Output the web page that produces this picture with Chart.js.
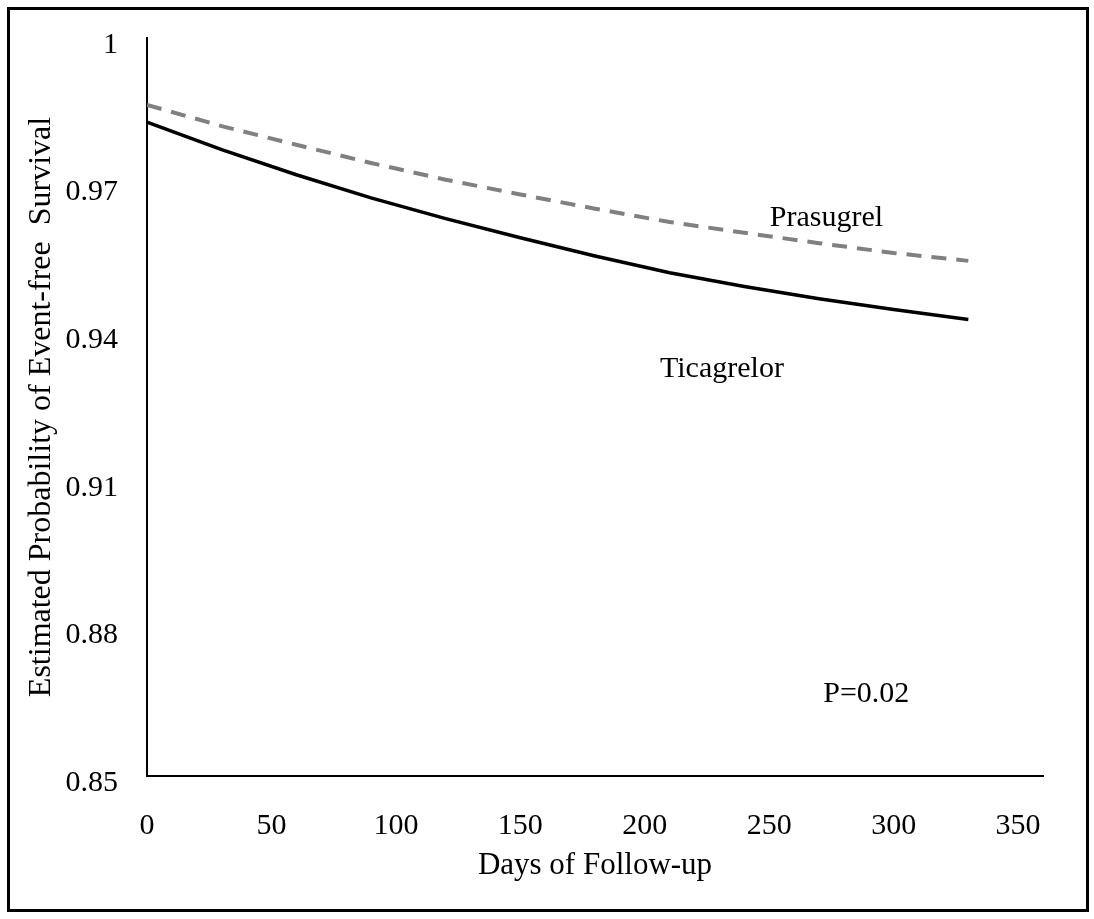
<!DOCTYPE html>
<html>
<head>
<meta charset="utf-8">
<script src="https://cdn.jsdelivr.net/npm/chart.js@4.4.1/dist/chart.umd.min.js"></script>
<style>
  html, body { margin: 0; padding: 0; background: #fff; }
  canvas { display: block; }
</style>
</head>
<body>
<canvas id="survivalChart" width="1094" height="919"></canvas>
<script>
// follow-up days (every 30 days)
const days = [0, 30, 60, 90, 120, 150, 180, 210, 240, 270, 300, 330];
const ticagrelor = [0.9829, 0.9773, 0.9722, 0.9675, 0.9633, 0.9594, 0.9557, 0.9523, 0.9495, 0.9470, 0.9448, 0.9428];
const prasugrel = [0.9864, 0.9821, 0.9783, 0.9746, 0.9712, 0.9682, 0.9653, 0.9626, 0.9604, 0.9583, 0.9563, 0.9547];

const xTicks = [0, 50, 100, 150, 200, 250, 300, 350];
const yTicks = [0.85, 0.88, 0.91, 0.94, 0.97, 1];

// text notes placed in data units
const noteTexts = ['Prasugrel', 'Ticagrelor', 'P=0.02'];
const noteDays = [273, 231, 289];
const noteValues = [0.9634, 0.9326, 0.8666];

const FONT = "'Liberation Serif', 'Times New Roman', serif";

const toPoints = (vals) => days.map((d, i) => ({ x: d, y: vals[i] }));

// outer frame round the whole figure
const framePlugin = {
    id: 'frame',
    beforeDraw(chart) {
        const ctx = chart.ctx;
        ctx.save();
        ctx.fillStyle = '#fff';
        ctx.fillRect(0, 0, chart.width, chart.height);
        ctx.strokeStyle = '#000';
        ctx.lineWidth = 3;
        ctx.strokeRect(8.5, 8.5, 1079, 902);
        ctx.restore();
    }
};

const notesPlugin = {
    id: 'notes',
    afterDatasetsDraw(chart) {
        const ctx = chart.ctx;
        const xs = chart.scales.x, ys = chart.scales.y;
        ctx.save();
        ctx.fillStyle = '#000';
        ctx.font = `30px ${FONT}`;
        ctx.textAlign = 'center';
        ctx.textBaseline = 'middle';
        noteTexts.forEach((t, i) => {
            ctx.fillText(t, xs.getPixelForValue(noteDays[i]), ys.getPixelForValue(noteValues[i]));
        });
        ctx.restore();
    }
};

new Chart(document.getElementById('survivalChart'), {
    type: 'line',
    data: {
        datasets: [
            {
                label: 'Ticagrelor',
                data: toPoints(ticagrelor),
                borderColor: '#000',
                borderWidth: 3.5,
                pointRadius: 0,
                tension: 0,
                fill: false
            },
            {
                label: 'Prasugrel',
                data: toPoints(prasugrel),
                borderColor: '#808080',
                borderWidth: 4,
                borderDash: [15, 10],
                pointRadius: 0,
                tension: 0,
                fill: false
            }
        ]
    },
    options: {
        responsive: false,
        devicePixelRatio: 1,
        animation: false,
        layout: { padding: { top: 38, right: 51, left: 0, bottom: 0 } },
        plugins: {
            legend: { display: false },
            tooltip: { enabled: false }
        },
        scales: {
            x: {
                type: 'linear',
                min: 0,
                max: 360,
                grid: { display: false, drawTicks: false },
                border: { display: true, color: '#000', width: 2 },
                afterBuildTicks: (scale) => { scale.ticks = xTicks.map(v => ({ value: v })); },
                afterFit: (scale) => { scale.height = 143; scale.paddingLeft = 0; scale.paddingRight = 0; },
                ticks: {
                    color: '#000',
                    padding: 32,
                    maxRotation: 0,
                    autoSkip: false,
                    font: { family: FONT, size: 30 }
                },
                title: {
                    display: true,
                    text: 'Days of Follow-up',
                    color: '#000',
                    padding: { top: 0, bottom: 35 },
                    font: { family: FONT, size: 31 }
                }
            },
            y: {
                min: 0.85,
                max: 1,
                grid: { display: false, drawTicks: false },
                border: { display: true, color: '#000', width: 2 },
                afterBuildTicks: (scale) => { scale.ticks = yTicks.map(v => ({ value: v })); },
                afterFit: (scale) => { scale.width = 147; scale.paddingTop = 0; scale.paddingBottom = 0; },
                ticks: {
                    color: '#000',
                    padding: 29,
                    labelOffset: 7,
                    autoSkip: false,
                    font: { family: FONT, size: 30 },
                    callback: (v) => String(+v.toFixed(2))
                },
                title: {
                    display: true,
                    text: 'Estimated Probability of Event-free  Survival',
                    color: '#000',
                    padding: { top: 22, bottom: 0 },
                    font: { family: FONT, size: 32 }
                }
            }
        }
    },
    plugins: [framePlugin, notesPlugin]
});
</script>
</body>
</html>
